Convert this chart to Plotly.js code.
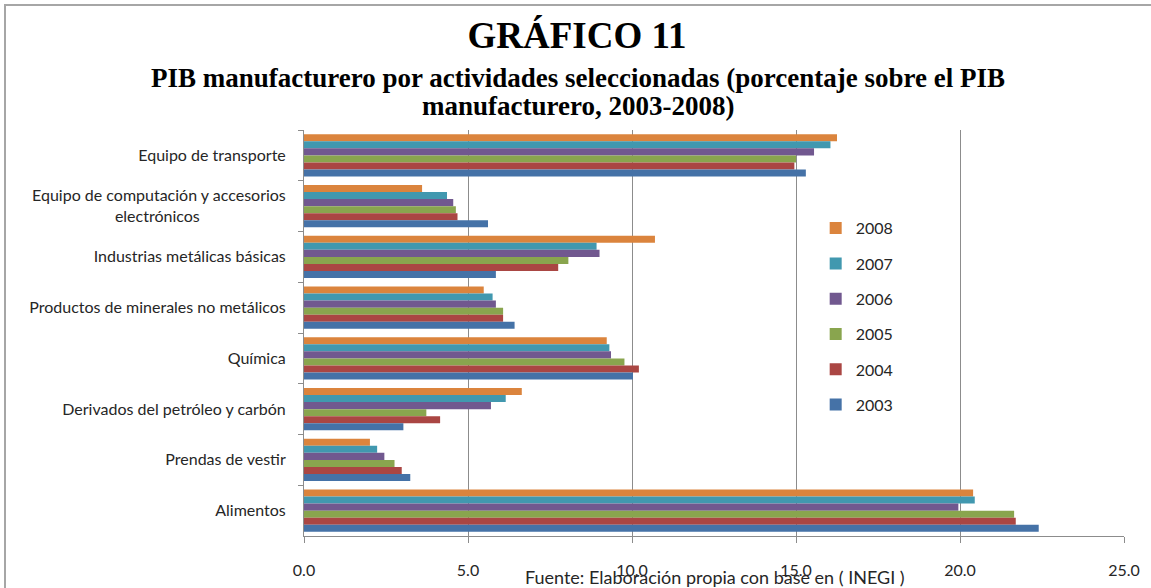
<!DOCTYPE html>
<html>
<head>
<meta charset="utf-8">
<script src="https://cdn.plot.ly/plotly-3.0.1.min.js"></script>
<style>
  html, body { margin: 0; padding: 0; background: #fff; }
  #wrap { position: relative; width: 1151px; height: 588px; overflow: hidden; }
  #frame { position: absolute; left: 4px; top: 4px; width: 1200px; height: 700px;
           border-left: 2px solid #a6a6a6; border-top: 2px solid #a6a6a6; pointer-events: none; z-index: 5; }
  #chart { position: absolute; left: 0; top: 0; width: 1151px; height: 588px; }
</style>
</head>
<body>
<div id="wrap">
  <div id="chart"></div>
  <div id="frame"></div>
</div>
<script>
// Categories, top to bottom as drawn
const categories = [
  "Equipo de transporte",
  "Equipo de computación y accesorios<br>electrónicos" + "&nbsp;".repeat(21),
  "Industrias metálicas básicas",
  "Productos de minerales no metálicos",
  "Química",
  "Derivados del petróleo y carbón",
  "Prendas de vestir",
  "Alimentos"
];

const years = ["2008", "2007", "2006", "2005", "2004", "2003"];

// values per year, same order as categories
const v2008 = [16.25, 3.60, 10.7, 5.48, 9.23, 6.64, 2.01, 20.4];
const v2007 = [16.05, 4.36, 8.92, 5.75, 9.31, 6.15, 2.23, 20.45];
const v2006 = [15.55, 4.55, 9.01, 5.85, 9.36, 5.70, 2.45, 19.95];
const v2005 = [15.0, 4.63, 8.06, 6.07, 9.77, 3.73, 2.76, 21.65];
const v2004 = [14.95, 4.68, 7.75, 6.07, 10.21, 4.15, 2.98, 21.7];
const v2003 = [15.3, 5.61, 5.85, 6.42, 10.03, 3.03, 3.24, 22.4];

const series = [v2008, v2007, v2006, v2005, v2004, v2003];
const colors = ["#DB843D", "#4198AF", "#71588F", "#89A54E", "#AA4643", "#4572A7"];

const xTicks = [0, 5, 10, 15, 20, 25];
const xTickText = ["0.0", "5.0", "10.0", "15.0", "20.0", "25.0"];

const traces = series.map((vals, i) => ({
  type: "bar",
  orientation: "h",
  name: years[i],
  x: vals,
  y: categories,
  legendgroup: "g" + years[i],
  marker: { color: colors[i], line: { width: 0 } },
  hoverinfo: "x+name"
}));

const sansFamily = "Lato, 'Open Sans', sans-serif";
const serifFamily = "'Liberation Serif', 'Times New Roman', serif";
const tickFont = { family: sansFamily, size: 16, color: "#262626" };

const plotTop = 130, plotBottom = 536, plotLeft = 304, plotRight = 1124;
const py = (pix) => (plotBottom - pix) / (plotBottom - plotTop);
const px = (pix) => (pix - plotLeft) / (plotRight - plotLeft);

const layout = {
  width: 1151,
  height: 588,
  margin: { l: 304, r: 27, t: 130, b: 52 },
  paper_bgcolor: "#ffffff",
  plot_bgcolor: "#ffffff",
  barmode: "group",
  bargap: 0.17,
  bargroupgap: 0,
  showlegend: true,
  title: {
    text: "GRÁFICO 11",
    font: { family: serifFamily, size: 37, color: "#000", weight: "bold" },
    x: 577 / 1151, xanchor: "center", xref: "container",
    y: 1, yref: "container", yanchor: "top", pad: { t: 22 }
  },
  annotations: [
    {
      text: "<b>PIB manufacturero por actividades seleccionadas (porcentaje sobre el PIB</b>",
      xref: "paper", yref: "paper", x: px(578), y: py(78),
      xanchor: "center", yanchor: "middle", showarrow: false,
      font: { family: serifFamily, size: 27, color: "#000" }
    },
    {
      text: "<b>manufacturero, 2003-2008)</b>",
      xref: "paper", yref: "paper", x: px(578), y: py(106),
      xanchor: "center", yanchor: "middle", showarrow: false,
      font: { family: serifFamily, size: 27, color: "#000" }
    },
    {
      text: "Fuente: Elaboración propia con base en ( INEGI )",
      xref: "paper", yref: "paper", x: px(715), y: py(577),
      xanchor: "center", yanchor: "middle", showarrow: false,
      font: { family: sansFamily, size: 18, color: "#262626" }
    }
  ],
  legend: {
    x: 0.624, xanchor: "left",
    y: 0.8, yanchor: "top",
    traceorder: "grouped",
    tracegroupgap: 11.5,
    font: { family: sansFamily, size: 16, color: "#262626" },
    bgcolor: "rgba(0,0,0,0)",
    itemwidth: 30
  },
  xaxis: {
    range: [0, 25],
    tickvals: xTicks,
    ticktext: xTickText,
    showgrid: true,
    gridcolor: "#8c8c8c",
    gridwidth: 1,
    zeroline: false,
    showline: true,
    linecolor: "#8c8c8c",
    linewidth: 1,
    ticks: "outside",
    ticklen: 6,
    tickcolor: "#8c8c8c",
    ticklabelstandoff: 14,
    tickfont: tickFont,
    fixedrange: true
  },
  yaxis: {
    type: "category",
    categoryorder: "array",
    categoryarray: categories,
    autorange: "reversed",
    showline: true,
    linecolor: "#8c8c8c",
    linewidth: 1,
    ticks: "outside",
    tickson: "boundaries",
    ticklen: 5,
    tickcolor: "#8c8c8c",
    showgrid: false,
    ticklabelstandoff: 14,
    tickfont: tickFont,
    fixedrange: true
  }
};

Plotly.newPlot("chart", traces, layout, { displayModeBar: false, staticPlot: true });
</script>
</body>
</html>
